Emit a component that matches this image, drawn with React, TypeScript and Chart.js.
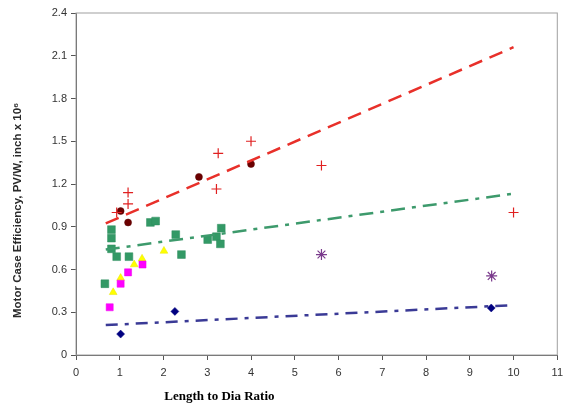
import React, { useEffect, useRef } from "react";
import { Chart, registerables } from "chart.js";

Chart.register(...registerables);

// Red crosses
const crossX = [0.93, 1.19, 1.19, 3.25, 3.21, 4.0, 5.61, 10.0];
const crossY = [1.0, 1.14, 1.06, 1.415, 1.165, 1.5, 1.33, 1.0];
// Dark red circles
const circleX = [1.02, 1.19, 2.81, 4.0];
const circleY = [1.01, 0.93, 1.25, 1.34];
// Green squares
const greenX = [0.81, 0.81, 0.81, 0.93, 1.21, 0.66, 1.7, 1.82, 2.28, 2.41, 3.01, 3.21, 3.3, 3.32];
const greenY = [0.88, 0.82, 0.745, 0.69, 0.69, 0.5, 0.93, 0.94, 0.845, 0.705, 0.81, 0.83, 0.78, 0.89];
// Magenta squares
const magentaX = [0.77, 1.02, 1.19, 1.52];
const magentaY = [0.335, 0.5, 0.58, 0.635];
// Yellow triangles
const yellowX = [0.85, 1.02, 1.33, 1.51, 2.01];
const yellowY = [0.44, 0.54, 0.635, 0.675, 0.73];
// Navy diamonds
const navyX = [1.02, 2.26, 9.49];
const navyY = [0.147, 0.306, 0.33];
// Purple asterisks
const starX = [5.61, 9.5];
const starY = [0.705, 0.555];
// Trend lines (endpoints)
const redTrendX = [0.68, 10.0];
const redTrendY = [0.924, 2.16];
const greenTrendX = [0.68, 9.95];
const greenTrendY = [0.74, 1.13];
const blueTrendX = [0.68, 10.0];
const blueTrendY = [0.21, 0.35];

const xTicksMax = 11;
const yTicksMax = 2.4;
const xTitle = "Length to Dia Ratio";
const yTitle = "Motor Case Efficiency, PV/W, inch x 10\u2076";

const pts = (xs: number[], ys: number[]) => xs.map((x, i) => ({ x, y: ys[i] }));

export default function App() {
  const ref = useRef<HTMLCanvasElement | null>(null);
  useEffect(() => {
    if (!ref.current) return;
    const frame = {
      id: "frame",
      beforeDatasetsDraw(chart: any) {
        const { ctx, chartArea: a } = chart;
        ctx.save();
        ctx.strokeStyle = "#a0a0a0";
        ctx.lineWidth = 1;
        ctx.strokeRect(a.left, a.top, a.right - a.left, a.bottom - a.top);
        ctx.restore();
      },
      afterDraw(chart: any) {
        const { ctx, chartArea: a } = chart;
        ctx.save();
        ctx.font = "bold 13px 'Liberation Serif', 'DejaVu Serif', serif";
        ctx.fillStyle = "#000";
        ctx.textAlign = "center";
        ctx.textBaseline = "middle";
        ctx.fillText(xTitle, a.left + (a.right - a.left) * 0.298, 397);
        ctx.restore();
        ctx.save();
        ctx.translate(18, a.top + (a.bottom - a.top) * 0.577);
        ctx.rotate(-Math.PI / 2);
        ctx.font = "bold 11.5px 'Liberation Sans', Arial, sans-serif";
        ctx.fillStyle = "#2a2a2a";
        ctx.textAlign = "center";
        ctx.textBaseline = "middle";
        ctx.fillText(yTitle, 0, 0);
        ctx.restore();
      },
    };
    const line = (xs: number[], ys: number[], color: string, dash: number[]) => ({
      type: "line" as const,
      data: pts(xs, ys),
      showLine: true,
      borderColor: color,
      borderWidth: 2.5,
      borderDash: dash,
      pointRadius: 0,
      fill: false,
    });
    const chart = new Chart(ref.current, {
      type: "scatter",
      data: {
        datasets: [
          line(redTrendX, redTrendY, "#e8302a", [14, 8]),
          line(greenTrendX, greenTrendY, "#3d9a6c", [14, 7, 4, 7]),
          line(blueTrendX, blueTrendY, "#3a3a96", [12, 7, 4, 7]),
          {
            data: pts(crossX, crossY),
            pointStyle: "cross",
            pointRadius: 5,
            borderColor: "#e02020",
            borderWidth: 1.2,
            backgroundColor: "#e02020",
          },
          {
            data: pts(circleX, circleY),
            pointStyle: "circle",
            pointRadius: 3.5,
            borderColor: "#5a0000",
            backgroundColor: "#6b0000",
            borderWidth: 0.5,
          },
          {
            data: pts(greenX, greenY),
            pointStyle: "rect",
            pointRadius: 5.5,
            borderColor: "#2f8f5f",
            backgroundColor: "#339966",
            borderWidth: 0.5,
          },
          {
            data: pts(magentaX, magentaY),
            pointStyle: "rect",
            pointRadius: 5,
            borderColor: "#ee00ee",
            backgroundColor: "#ff00ff",
            borderWidth: 0.5,
          },
          {
            data: pts(yellowX, yellowY),
            pointStyle: "triangle",
            pointRadius: 4.5,
            borderColor: "#e6e600",
            backgroundColor: "#ffff00",
            borderWidth: 0.5,
          },
          {
            data: pts(navyX, navyY),
            pointStyle: "rectRot",
            pointRadius: 4,
            borderColor: "#000080",
            backgroundColor: "#000080",
            borderWidth: 0.5,
          },
          {
            data: pts(starX, starY),
            pointStyle: "star",
            pointRadius: 5.5,
            borderColor: "#7a3a8c",
            backgroundColor: "#7a3a8c",
            borderWidth: 1.2,
          },
        ],
      },
      options: {
        animation: false,
        responsive: true,
        maintainAspectRatio: false,
        layout: { padding: { top: 13, right: 10, left: 0, bottom: 0 } },
        plugins: { legend: { display: false }, tooltip: { enabled: false } },
        scales: {
          x: {
            type: "linear",
            min: 0,
            max: xTicksMax,
            afterFit(scale: any) {
              scale.height = 55;
            },
            ticks: {
              stepSize: 1,
              color: "#333",
              font: { family: "'Liberation Sans', Arial, sans-serif", size: 11 },
              padding: 6,
            },
            grid: { drawOnChartArea: false, drawTicks: true, tickLength: 5, color: "#555" },
            border: { display: true, color: "#555", width: 1 },
          },
          y: {
            type: "linear",
            min: 0,
            max: yTicksMax,
            afterFit(scale: any) {
              scale.width = 76;
            },
            ticks: {
              stepSize: 0.3,
              color: "#333",
              font: { family: "'Liberation Sans', Arial, sans-serif", size: 11 },
              padding: 4,
              callback: (v: any) => Number(Number(v).toFixed(1)).toString(),
            },
            grid: { drawOnChartArea: false, drawTicks: true, tickLength: 5, color: "#555" },
            border: { display: true, color: "#555", width: 1 },
          },
        },
      },
      plugins: [frame],
    });
    return () => chart.destroy();
  }, []);
  return (
    <div style={{ position: "fixed", left: 0, top: 0, width: 569, height: 410, background: "#fff" }}>
      <canvas ref={ref} />
    </div>
  );
}
